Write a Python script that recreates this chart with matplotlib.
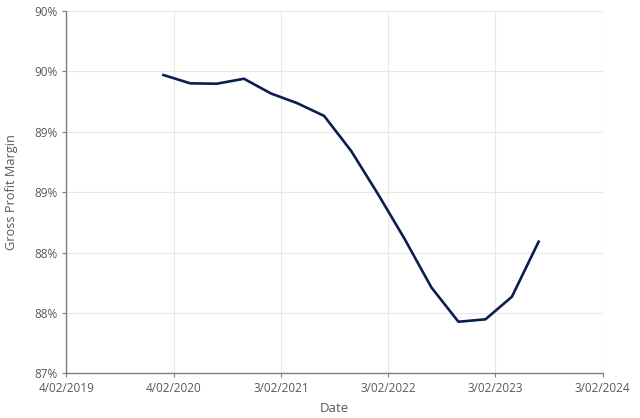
import datetime as dt
import matplotlib
matplotlib.use("Agg")
import matplotlib.pyplot as plt

# quarterly gross profit margin (fraction)
dates = ["2019-12-31", "2020-03-31", "2020-06-30", "2020-09-30", "2020-12-31",
         "2021-03-31", "2021-06-30", "2021-09-30", "2021-12-31", "2022-03-31",
         "2022-06-30", "2022-09-30", "2022-12-31", "2023-03-31", "2023-06-30"]
margin = [0.89470, 0.89401, 0.89398, 0.89439, 0.89317,
          0.89236, 0.89131, 0.88841, 0.88481, 0.88112,
          0.87711, 0.87427, 0.87447, 0.87634, 0.88090]

y_ticks = [0.870, 0.875, 0.880, 0.885, 0.890, 0.895, 0.900]
y_tick_labels = ["87%", "88%", "88%", "89%", "89%", "90%", "90%"]

x_start = dt.date(2019, 2, 4)
x_ticks = [x_start + dt.timedelta(days=365 * i) for i in range(6)]
x_tick_labels = [f"{d.day}/{d.month:02d}/{d.year}" for d in x_ticks]

plt.rcParams['font.family'] = ['Open Sans', 'DejaVu Sans']
text_col = "#595959"

fig = plt.figure(figsize=(6.4, 4.18), dpi=100)
ax = fig.add_axes([0.1039, 0.1069, 0.8378, 0.8668])

x = [dt.datetime.strptime(d, "%Y-%m-%d") for d in dates]
ax.plot(x, margin, color="#0c1d4f", linewidth=1.9, solid_joinstyle="round", zorder=3)

ax.set_xlim(x_ticks[0], x_ticks[-1])
ax.set_ylim(0.87, 0.90)
ax.set_xticks(x_ticks)
ax.set_xticklabels(x_tick_labels)
ax.set_yticks(y_ticks)
ax.set_yticklabels(y_tick_labels)

ax.grid(True, color="#e8e8e8", linewidth=0.8)
ax.set_axisbelow(True)
for s in ["top", "right"]:
    ax.spines[s].set_visible(False)
for s in ["left", "bottom"]:
    ax.spines[s].set_color("#7f7f7f")
    ax.spines[s].set_linewidth(1.0)

ax.tick_params(axis="both", colors="#7f7f7f", labelcolor=text_col, labelsize=8.5,
               length=3, width=0.8, direction="out")
ax.tick_params(axis="x", pad=3)

ax.set_xlabel("Date", color=text_col, fontsize=9.5, labelpad=5)
ax.set_ylabel("Gross Profit Margin", color=text_col, fontsize=9.2, labelpad=12)

fig.savefig("out.png", dpi=100)
